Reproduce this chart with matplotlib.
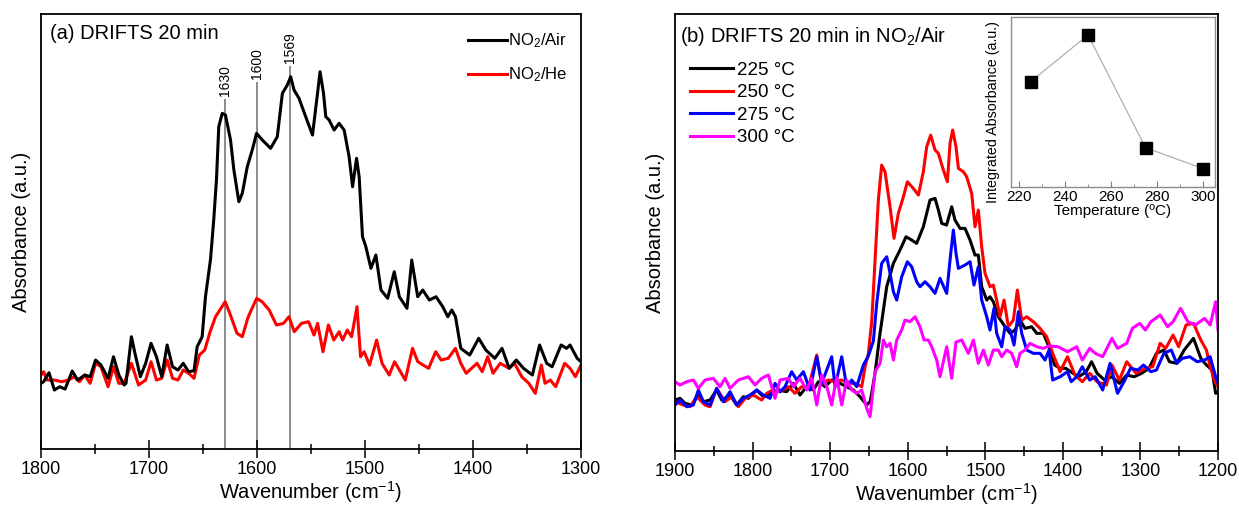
import matplotlib
matplotlib.use("Agg")
import matplotlib.pyplot as plt
from matplotlib.ticker import MultipleLocator

plt.rcParams["font.family"] = ["Liberation Sans", "DejaVu Sans"]
plt.rcParams["mathtext.fontset"] = "custom"
plt.rcParams["mathtext.rm"] = "Liberation Sans"
plt.rcParams["mathtext.it"] = "Liberation Sans:italic"

# ---- panel (a): NO2/Air vs NO2/He, absorbance in arbitrary units ----
wn_air = [1800, 1797.6, 1792.6, 1787.6, 1782.7, 1777.7, 1771.1, 1766.1, 1759.5, 1754.5,
          1749.5, 1744.5, 1737.9, 1732.9, 1727.9, 1723, 1721.3, 1716.3, 1713, 1708,
          1703.1, 1698.1, 1693.1, 1688.2, 1683.2, 1678.2, 1673.2, 1668.3, 1663.3, 1658.3,
          1655.4, 1650.8, 1647.7, 1643, 1640, 1637.5, 1635.4, 1632.2, 1629.2, 1624.5,
          1621.4, 1616.8, 1613.6, 1609, 1604.4, 1600.4, 1595.1, 1587.4, 1581.2, 1576.5,
          1571.9, 1568.8, 1565.7, 1561.1, 1554.9, 1548.6, 1544.7, 1541.6, 1538.4, 1536.3,
          1533.2, 1528.6, 1524, 1519.3, 1514.7, 1511.5, 1507.8, 1505.4, 1502.3, 1499.2,
          1494.5, 1489.9, 1485.2, 1479, 1472.9, 1468.2, 1461.1, 1456.7, 1451.2, 1446.5,
          1440.4, 1434.2, 1428, 1423.3, 1419.6, 1416.2, 1411.3, 1403, 1394.7, 1388.1,
          1379.8, 1373.1, 1366.5, 1359.9, 1353.2, 1345, 1338.3, 1331.7, 1326.7, 1318.4,
          1313.4, 1310.1, 1303.5, 1300]
abs_air = [65.7, 67.3, 76.3, 59, 62.3, 60, 78, 69, 74, 72.3,
           89, 84, 70.7, 92.3, 74, 64, 65.7, 112.3, 95.7, 72.3,
           85.7, 105.7, 92.3, 72.3, 104, 82.3, 79, 85.7, 77.3, 78.3,
           102.3, 112.3, 152.3, 190, 230, 270, 322.3, 335.7, 334, 309,
           279, 247.3, 255.7, 282.3, 299, 315.7, 309, 300.7, 312.3, 355.7,
           364, 372.3, 359, 350.7, 332.3, 314, 349, 377.3, 355.7, 332.3,
           329, 319, 325.7, 319, 292.3, 262.3, 290.7, 272.3, 212.3, 202.3,
           180.7, 194, 159, 150.7, 177.3, 152.3, 140.7, 189, 152.3, 159,
           149, 152.3, 142.3, 132.3, 139, 132.3, 100.7, 94, 110.7, 99,
           90.7, 100.7, 80.7, 89, 80.7, 74, 104, 85.7, 82.3, 104,
           100.7, 104, 90.7, 87.3]

wn_he = [1800, 1797.6, 1794.3, 1787.6, 1781, 1774.4, 1769.4, 1764.4, 1759.5, 1754.5,
         1749.5, 1744.5, 1737.9, 1732.9, 1727.9, 1723, 1716.3, 1709.7, 1703.1, 1698.1,
         1693.1, 1688.2, 1683.2, 1678.2, 1673.2, 1668.3, 1663.3, 1658.3, 1653.4, 1648.4,
         1643.4, 1638.4, 1633.4, 1629.5, 1625.2, 1618.5, 1613.6, 1608.6, 1605.3, 1600.3,
         1595.3, 1588.7, 1582, 1575.4, 1570.4, 1565.5, 1558.8, 1552.2, 1547.2, 1543.9,
         1538.9, 1533.9, 1528.9, 1523.9, 1520.7, 1516.4, 1512.4, 1507.4, 1504.1, 1500.8,
         1495.8, 1489.2, 1484.2, 1477.6, 1472.6, 1462.7, 1456, 1451.1, 1446.1, 1441.1,
         1434.5, 1429.5, 1422.9, 1416.2, 1411.3, 1406.3, 1396.3, 1391.4, 1386.4, 1381.4,
         1374.8, 1366.5, 1361.5, 1354.9, 1348.3, 1342.3, 1336.7, 1333.3, 1328.4, 1323.4,
         1315.1, 1310.1, 1305.2, 1300]
abs_he = [74, 77.3, 69, 69, 67.3, 69, 72.3, 67.3, 74, 65.7,
          85.7, 82.3, 62.3, 82.3, 65.7, 65.7, 85.7, 64, 69, 87.3,
          69, 70.7, 89, 70.7, 69, 79, 75.7, 70.7, 94, 99,
          117.3, 132.3, 140.7, 147.3, 135.7, 115.7, 112.3, 130.7, 139, 150.7,
          147.3, 139, 124, 125.7, 132.3, 117.3, 125.7, 127.3, 114, 125.7,
          97.3, 124, 109, 117.3, 109, 119, 112.3, 142.3, 92.3, 97.3,
          84, 109, 85.7, 74, 87.3, 69, 100.7, 87.3, 84, 80.7,
          97.3, 89, 90.7, 100.7, 85.7, 75.7, 85.7, 77.3, 92.3, 75.7,
          85.7, 80.7, 85.7, 72.3, 65.7, 55.7, 84, 65.7, 69, 62.3,
          85.7, 80.7, 72.3, 84]

peak_wn = [1630, 1600, 1569]
peak_top = [349, 366, 382]

# ---- panel (b): NO2/Air at four temperatures ----
wn_225 = [1900, 1893.5, 1887.1, 1878.5, 1869.9, 1863.4, 1854.8, 1846.3, 1839.8, 1829.1,
          1820.5, 1811.9, 1805.4, 1794.7, 1786.1, 1777.5, 1766.8, 1756.1, 1747.4, 1738.9,
          1730.3, 1721.7, 1715.2, 1706.6, 1698, 1687.3, 1678.7, 1670.1, 1661.5, 1652.9,
          1648.6, 1646.5, 1642.2, 1635.7, 1627.1, 1618.5, 1610, 1602.2, 1594.9, 1588.5,
          1579.9, 1571.3, 1564.8, 1560.5, 1556.2, 1550, 1543.3, 1539.1, 1532.6, 1526.2,
          1519.7, 1513.3, 1509, 1504.7, 1498.2, 1494, 1489.7, 1483.2, 1474.6, 1468.1,
          1461.7, 1455.3, 1448.8, 1440.2, 1433.8, 1425.2, 1417.9, 1410.7, 1403.5, 1396.4,
          1386.9, 1379.7, 1370.2, 1363, 1355.9, 1346.3, 1336.8, 1327.2, 1317.7, 1308.1,
          1298.6, 1289, 1279.4, 1269.9, 1262.7, 1253.2, 1243.7, 1231.7, 1222.2, 1215,
          1207.8, 1203.1, 1200]
abs_225 = [51, 52.7, 47.7, 46, 56, 49.3, 51, 61, 51, 56,
           46, 54.3, 52.7, 61, 54.3, 57.7, 61, 59.3, 67.7, 56,
           64.3, 61, 69.3, 64.3, 71, 67.7, 64.3, 61, 54.3, 46,
           49.3, 57.7, 77.7, 117.7, 164.3, 187.7, 201, 214.3, 211, 207.7,
           224.3, 251, 252.7, 241, 227.7, 226, 244.3, 231, 222.7, 222.7,
           211, 196, 196, 164.3, 151, 154.3, 149.3, 134.3, 124.3, 117.7,
           121, 131, 122.7, 124.3, 117.7, 117.7, 104.3, 86, 82.7, 82.7,
           77.7, 74.3, 79, 89.3, 77.7, 71, 74.3, 67.7, 76, 74.3,
           77.7, 82.7, 97.7, 101, 89.3, 87.7, 101, 112.7, 92.7, 86,
           81, 57.7, 59]

wn_250 = [1900, 1889.2, 1880.6, 1872, 1861.3, 1854.8, 1846.3, 1835.5, 1826.9, 1818.3,
          1809.7, 1799, 1788.3, 1781.8, 1773.2, 1764.6, 1753.9, 1745.3, 1736.7, 1728.1,
          1717.3, 1710.9, 1702.3, 1693.7, 1685.1, 1676.5, 1667.9, 1659.3, 1655, 1650.7,
          1646.4, 1644.3, 1637.9, 1633.6, 1629.3, 1622.8, 1617.7, 1612.1, 1605.6, 1600.5,
          1592.8, 1586.3, 1579.9, 1575.6, 1570.4, 1564.8, 1560.5, 1554.1, 1548.9, 1545.5,
          1542.1, 1537.8, 1534.7, 1528.3, 1524, 1517.6, 1513.3, 1509, 1504.7, 1500.4,
          1493.9, 1489.7, 1485.4, 1481.1, 1475.9, 1470.3, 1463.9, 1458.7, 1453.1, 1446.7,
          1438.1, 1429.5, 1420.9, 1413.2, 1403.6, 1394.1, 1384.5, 1375, 1365.4, 1355.9,
          1343.9, 1336.8, 1327.2, 1317.7, 1305.7, 1293.8, 1284.2, 1274.7, 1267.5, 1258,
          1250.8, 1241.3, 1231.7, 1222.2, 1215, 1210.2, 1203.1, 1200]
abs_250 = [49.3, 46, 44.3, 54.3, 46, 44.3, 62.7, 49.3, 54.3, 44.3,
           52.7, 56, 51, 57.7, 61, 59.3, 64.3, 57.7, 64.3, 62.7,
           96, 67.7, 71, 69.3, 71, 67.7, 67.7, 64.3, 84.3, 97.7,
           130, 160, 251, 286, 279.3, 244.3, 212.7, 237.7, 254.3, 269.3,
           262.7, 256, 279.3, 304.3, 316, 301, 297.7, 281, 269.3, 307.7,
           321, 304.3, 282.7, 279.3, 274.3, 257.7, 224.3, 241, 204.3, 177.7,
           164.3, 166, 151, 134.3, 151, 124.3, 131, 161, 131, 134.3,
           129.3, 122.7, 114.3, 97.7, 79.3, 94.3, 76, 69.3, 77.7, 69.3,
           66, 86, 71, 89.3, 77.7, 82.7, 84.3, 107.7, 102.7, 116,
           104.3, 126, 127.7, 111, 101, 84.3, 67.7, 64.3]

wn_275 = [1900, 1893.5, 1884.9, 1876.3, 1869.9, 1863.4, 1854.8, 1846.3, 1837.7, 1829.1,
          1820.5, 1811.9, 1803.3, 1794.7, 1786.1, 1777.5, 1771.1, 1764.6, 1758.2, 1749.6,
          1743.1, 1734.5, 1726, 1717.3, 1710.9, 1698, 1693.7, 1685.1, 1678.7, 1672.2,
          1665.8, 1657.2, 1650.8, 1644.3, 1640, 1633.6, 1627.1, 1622.8, 1618.5, 1614.2,
          1607.8, 1600.5, 1594.9, 1588.5, 1584.2, 1577.7, 1571.3, 1564.8, 1558.4, 1549.8,
          1544.6, 1541.2, 1537.8, 1534.7, 1526.2, 1519.7, 1514.6, 1509, 1504.7, 1498.2,
          1494, 1488.8, 1485.4, 1478.9, 1474.6, 1468.1, 1463, 1457.4, 1453.1, 1446.7,
          1438.1, 1429.5, 1423, 1417.9, 1413.2, 1403.6, 1394.1, 1389.3, 1382.1, 1375,
          1365.4, 1358.3, 1348.7, 1339.2, 1329.6, 1320.1, 1312.9, 1303.3, 1296.2, 1286.6,
          1279.4, 1269.9, 1260.3, 1253.2, 1246, 1236.5, 1226.9, 1217.4, 1210.2, 1203.1,
          1200]
abs_275 = [46, 51, 44.3, 46, 61, 49.3, 46, 62.7, 49.3, 59.3,
           46, 52.7, 56, 61, 56, 52.7, 67.7, 59.3, 64.3, 79.3,
           71, 79.3, 61, 94.3, 67.7, 94.3, 64.3, 94.3, 64.3, 71,
           64.3, 86, 95, 110, 147.7, 187.7, 194.3, 177.7, 159.3, 151,
           174.3, 189.3, 184.3, 169.3, 164.3, 169.3, 164.3, 157.7, 172.7, 157.7,
           197.7, 221, 197.7, 182.7, 186, 189.3, 166, 184.3, 151, 134.3,
           121, 142.7, 117.7, 104.3, 124.3, 121, 106, 139.3, 117.7, 101,
           97.7, 97.7, 91, 101, 71, 74.3, 79.3, 69.3, 74.3, 84.3,
           71, 74.3, 61, 87.7, 57.7, 71, 82.7, 81, 86, 79.3,
           81, 97.7, 101, 87.7, 92.7, 94.3, 89.3, 91, 94.3, 74.3,
           67.7]

wn_300 = [1900, 1893.5, 1884.9, 1876.3, 1869.9, 1861.3, 1850.6, 1842, 1835.5, 1829.1,
          1818.3, 1805.4, 1796.8, 1788.3, 1779.7, 1771.1, 1764.6, 1753.9, 1747.4, 1738.9,
          1730.3, 1723.8, 1717.3, 1710.9, 1704.4, 1698, 1691.6, 1685.1, 1678.7, 1672.2,
          1665.8, 1659.3, 1652.9, 1648.6, 1642.1, 1635.7, 1631.4, 1627.1, 1622.8, 1618.5,
          1614.2, 1607.8, 1603.5, 1597.1, 1590.6, 1584.2, 1579, 1573.4, 1569.1, 1562.7,
          1558.4, 1549.8, 1543.3, 1537.8, 1530.5, 1521.9, 1515.4, 1509, 1502.5, 1496.1,
          1489.7, 1483.2, 1478.9, 1472.4, 1466, 1459.6, 1455.3, 1448.8, 1442.4, 1433.8,
          1425.2, 1417.9, 1406, 1394.1, 1382.1, 1375, 1365.4, 1358.3, 1348.7, 1336.8,
          1329.6, 1317.7, 1310.5, 1300.9, 1293.8, 1286.6, 1274.7, 1265.1, 1258, 1248.4,
          1238.9, 1229.3, 1217.4, 1210.2, 1203.1, 1200]
abs_300 = [69.3, 66, 69.3, 71, 62.7, 71, 72.7, 64.3, 72.7, 62.7,
           71, 74.3, 66, 72.7, 76, 52.7, 71, 72.7, 64.3, 72.7,
           61, 72.7, 46, 76, 64.3, 46, 74.3, 46, 71, 61,
           57.7, 61, 42.7, 34.3, 79.3, 87.7, 111, 104.3, 107.7, 91,
           111, 121, 131, 129.3, 134.3, 124.3, 111, 111, 104.3, 91,
           74.3, 104.3, 72.7, 109, 111, 97.7, 111, 87.7, 101, 86,
           101, 101, 94.3, 101, 97.7, 84.3, 97.7, 101, 107.7, 104.3,
           102.7, 105, 104.3, 99.3, 104.3, 91, 102.7, 97.7, 94.3, 112.7,
           102.7, 107.7, 122.7, 127.7, 121, 129.3, 136, 124.3, 129.3, 142.7,
           129.3, 126, 132.7, 126, 149.3, 121]

# inset: integrated absorbance vs temperature
temps = [225, 250, 275, 300]
integ = [0.619, 0.894, 0.231, 0.108]

fig = plt.figure(figsize=(12.39, 5.08), dpi=100)
ax1 = fig.add_axes([0.0331, 0.1161, 0.4358, 0.8563])
ax2 = fig.add_axes([0.5448, 0.1122, 0.4383, 0.8600])


def style_main(ax, lo, hi):
    ax.set_xlim(lo, hi)
    ax.xaxis.set_major_locator(MultipleLocator(100))
    ax.xaxis.set_minor_locator(MultipleLocator(50))
    ax.tick_params(axis="x", which="major", direction="inout", length=13, width=1.1,
                   labelsize=13, pad=2)
    ax.tick_params(axis="x", which="minor", direction="inout", length=6.5, width=1.1)
    ax.set_yticks([])
    for s in ax.spines.values():
        s.set_linewidth(1.3)
    ax.set_xlabel("Wavenumber (cm$^{-1}$)", fontsize=14.5, labelpad=1)
    ax.set_ylabel("Absorbance (a.u.)", fontsize=14.5, labelpad=7)


# panel (a)
for w, t in zip(peak_wn, peak_top):
    ax1.plot([w, w], [0, t], color="#8a8a8a", lw=1.4, zorder=1)
    ax1.text(w, t + 4, str(w), rotation=90, ha="center", va="bottom", fontsize=10)
ax1.plot(wn_air, abs_air, color="black", lw=2.2, label="NO$_2$/Air", zorder=3)
ax1.plot(wn_he, abs_he, color="#ff0000", lw=2.2, label="NO$_2$/He", zorder=2)
ax1.set_ylim(0, 435)
style_main(ax1, 1800, 1300)
ax1.text(0.017, 0.978, "(a) DRIFTS 20 min", transform=ax1.transAxes,
         fontsize=14.5, va="top", ha="left")
ax1.legend(loc="upper right", bbox_to_anchor=(1.0, 0.99), frameon=False, fontsize=12,
           handlelength=2.3, handletextpad=0.1, labelspacing=0.9, borderaxespad=0.4)

# panel (b)
ax2.plot(wn_225, abs_225, color="black", lw=2.2, label="225 °C")
ax2.plot(wn_250, abs_250, color="#ff0000", lw=2.2, label="250 °C")
ax2.plot(wn_275, abs_275, color="#0000ff", lw=2.2, label="275 °C")
ax2.plot(wn_300, abs_300, color="#ff00ff", lw=2.2, label="300 °C")
ax2.set_ylim(0, 437)
style_main(ax2, 1900, 1200)
ax2.text(0.01, 0.975, "(b) DRIFTS 20 min in NO$_2$/Air", transform=ax2.transAxes,
         fontsize=14.5, va="top", ha="left")
ax2.legend(loc="upper left", bbox_to_anchor=(0.0, 0.925), frameon=False, fontsize=13.5,
           handlelength=2.3, handletextpad=0.2, labelspacing=0.28, borderaxespad=0.4)

# inset
axi = fig.add_axes([0.816, 0.632, 0.1646, 0.3346])
axi.plot(temps, integ, color="#b0b0b0", lw=0.9, marker="s", markersize=8,
         markerfacecolor="black", markeredgecolor="black")
axi.set_xlim(216.5, 305.2)
axi.set_ylim(0, 1)
axi.set_yticks([])
axi.xaxis.set_major_locator(MultipleLocator(20))
axi.xaxis.set_minor_locator(MultipleLocator(10))
axi.tick_params(axis="x", which="major", direction="in", length=4, labelsize=11, pad=2,
                color="#808080")
axi.tick_params(axis="x", which="minor", direction="in", length=2, color="#808080")
for s in axi.spines.values():
    s.set_color("#8c8c8c")
    s.set_linewidth(1.0)
axi.set_xlabel("Temperature (ºC)", fontsize=11, labelpad=0)
axi.set_ylabel("Integrated Absorbance (a.u.)", fontsize=10.3)
axi.yaxis.set_label_coords(-0.055, 0.44)

fig.savefig("out.png", dpi=100)
